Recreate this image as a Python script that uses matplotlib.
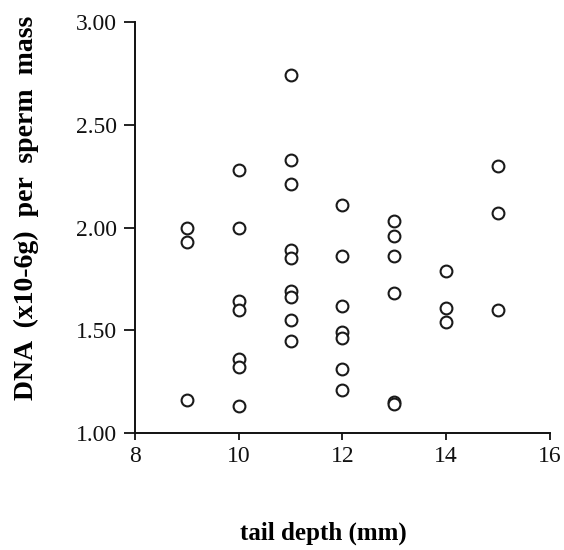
import matplotlib
matplotlib.use("Agg")
import matplotlib.pyplot as plt

# tail depth (mm) and DNA per sperm mass
x9 = [2.00, 1.93, 1.16]
x10 = [2.28, 2.00, 1.64, 1.60, 1.36, 1.32, 1.13]
x11 = [2.74, 2.33, 2.21, 1.89, 1.85, 1.69, 1.66, 1.55, 1.45]
x12 = [2.11, 1.86, 1.62, 1.49, 1.46, 1.31, 1.21]
x13 = [2.03, 1.96, 1.86, 1.68, 1.15, 1.14]
x14 = [1.79, 1.61, 1.54]
x15 = [2.30, 2.07, 1.60]

depths = [9, 10, 11, 12, 13, 14, 15]
groups = [x9, x10, x11, x12, x13, x14, x15]

xs, ys = [], []
for d, g in zip(depths, groups):
    xs += [d] * len(g)
    ys += g

plt.rcParams['font.family'] = ['Liberation Serif', 'DejaVu Serif']

fig = plt.figure(figsize=(5.64, 5.5), dpi=100)
ax = fig.add_axes([0.2394, 0.2127, 0.7356, 0.7473])

ax.plot(xs, ys, 'o', mfc='white', mec='#1a1a1a', mew=1.5, ms=8.5, ls='none',
        clip_on=False)

ax.set_xlim(8, 16)
ax.set_ylim(1.0, 3.0)
ax.set_xticks([8, 10, 12, 14, 16])
ax.set_yticks([1.0, 1.5, 2.0, 2.5, 3.0])
ax.set_yticklabels(['1.00', '1.50', '2.00', '2.50', '3.00'])

for s in ['top', 'right']:
    ax.spines[s].set_visible(False)
for s in ['left', 'bottom']:
    ax.spines[s].set_linewidth(1.4)
    ax.spines[s].set_color('#111111')

ax.tick_params(axis='y', direction='out', length=8, width=1.3,
               labelsize=17, colors='#111111', pad=5)
ax.tick_params(axis='x', direction='out', length=5, width=1.3,
               labelsize=17, colors='#111111', pad=4)

ax.set_xlabel('tail depth (mm)', fontsize=18, fontweight='bold', va='baseline')
ax.xaxis.set_label_coords(0.455, -0.260)
ax.set_ylabel('DNA  (x10-6g)  per  sperm  mass', fontsize=20, fontweight='bold',
              va='baseline')
ax.yaxis.set_label_coords(-0.246, 0.547)

fig.savefig('out.png', dpi=100)
